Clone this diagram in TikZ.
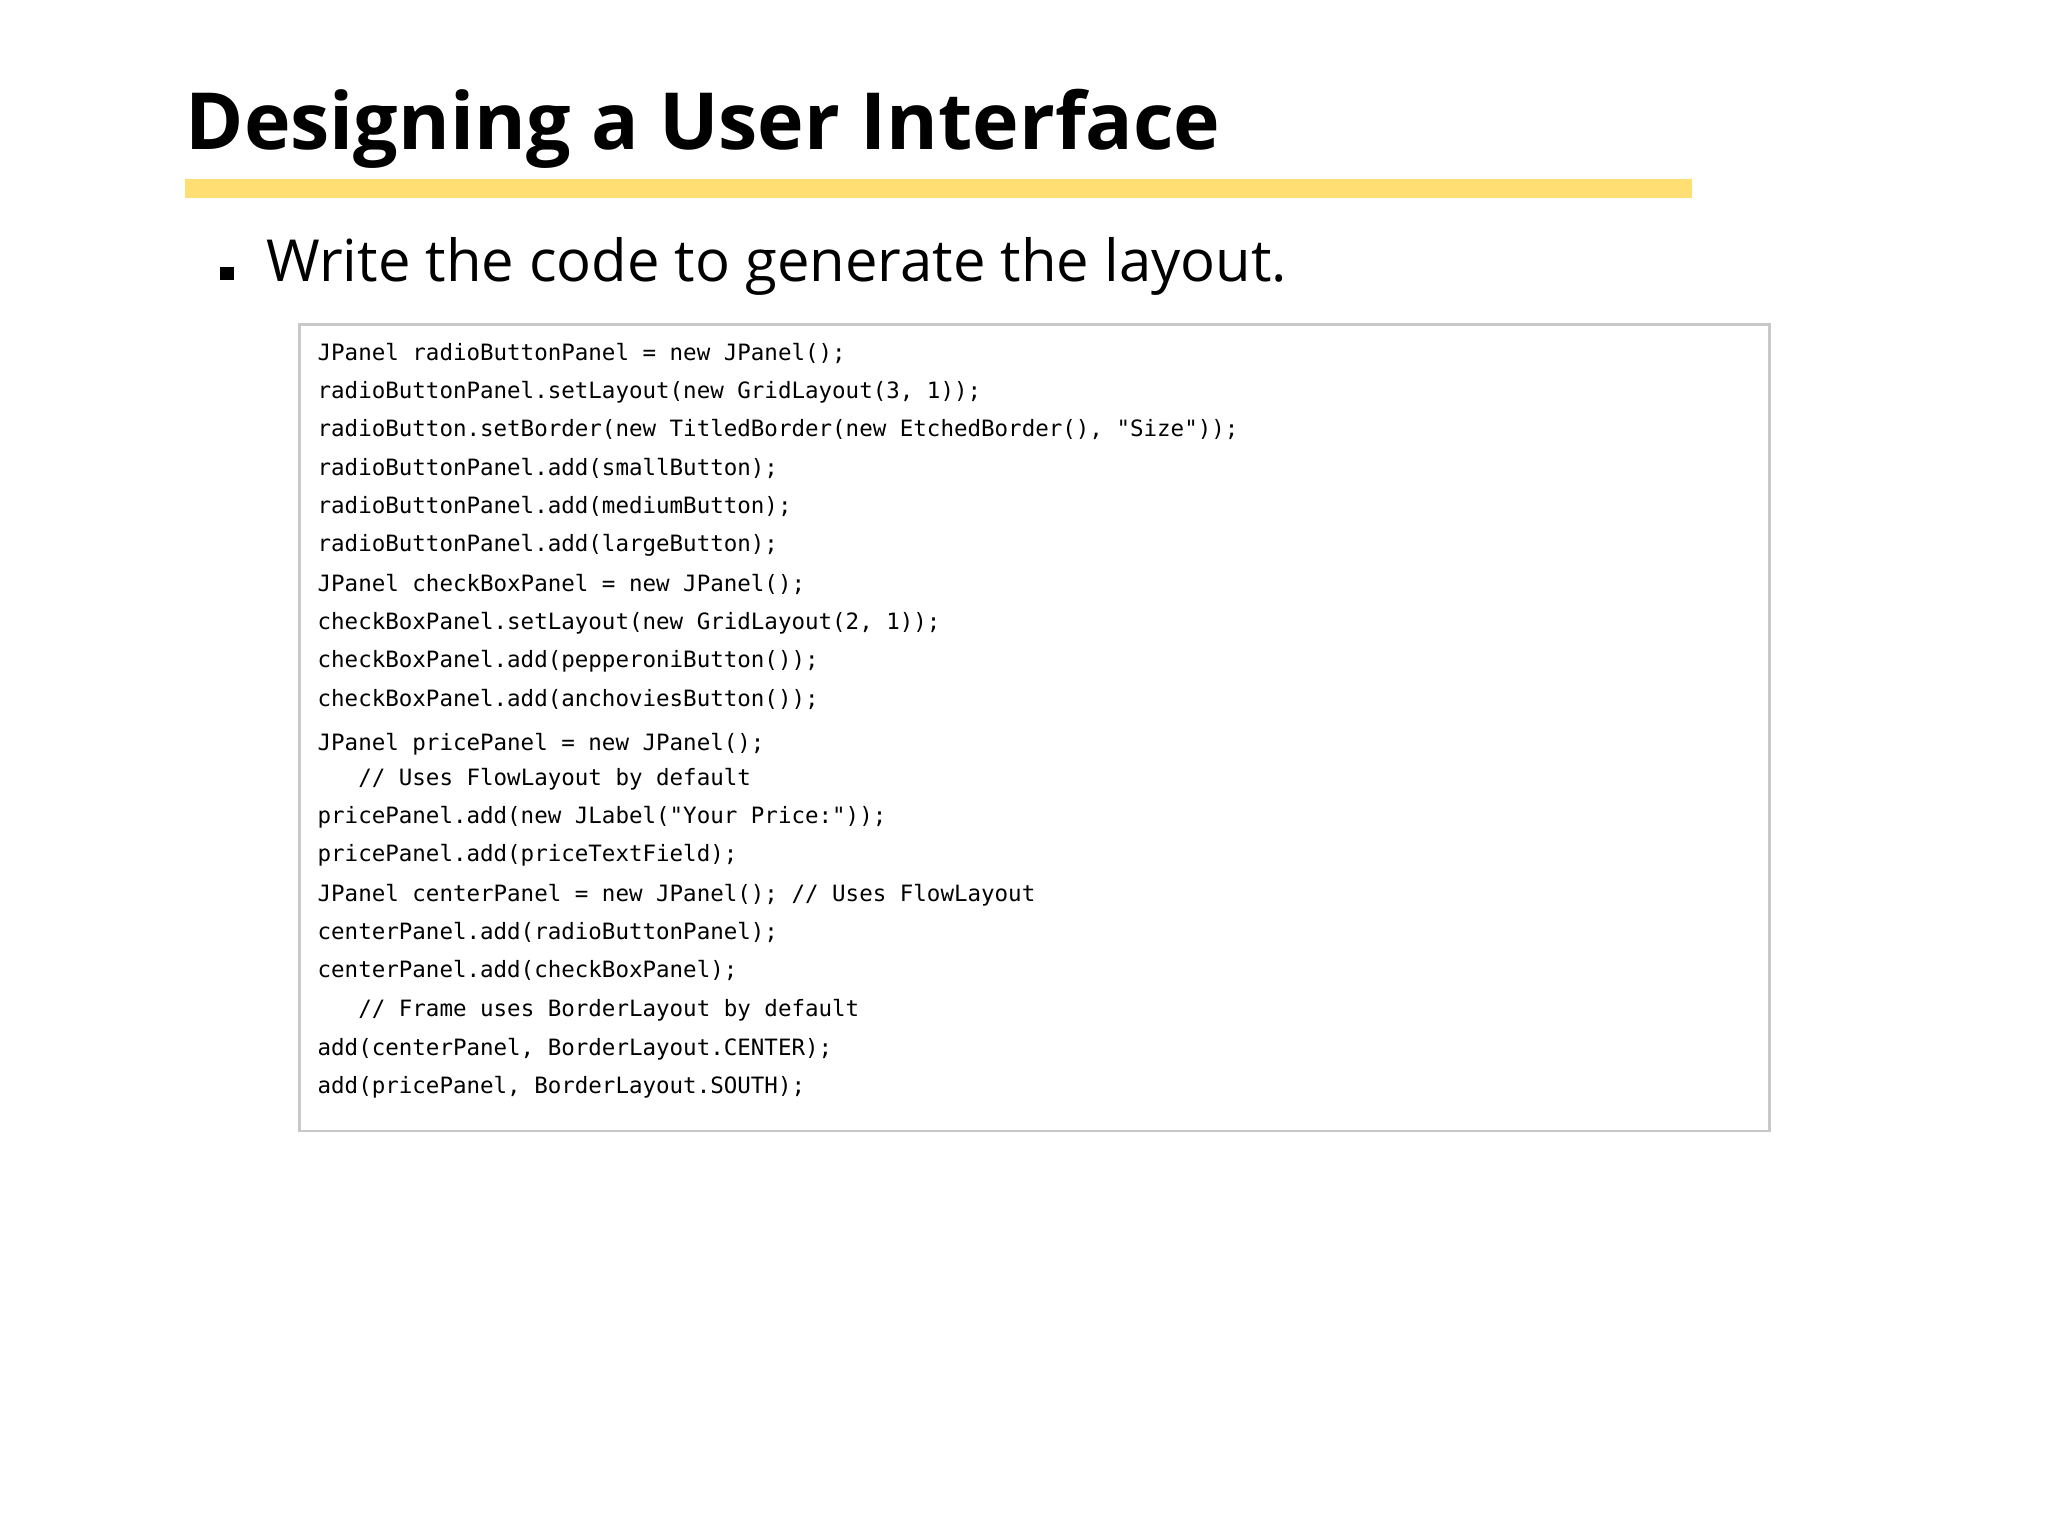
\documentclass[tikz,border=0pt]{standalone}
\usepackage{fontspec}
\setmainfont{Open Sans}
\newfontfamily\codefont{DejaVu Sans Mono}
\newfontfamily\titlefont{Open Sans}
\begin{document}
\begin{tikzpicture}[x=0.1mm,y=-0.1mm,
  codeline/.style={anchor=base west,inner sep=0pt,font=\codefont\fontsize{4.85pt}{5pt}\selectfont}]
\useasboundingbox (0,0) rectangle (1552,1164);
\node[anchor=base west,inner sep=0pt,font=\titlefont\bfseries\fontsize{17pt}{20pt}\selectfont] (title) at (140,113) {Designing a User Interface};
\fill[color={rgb,255:red,255;green,223;blue,115}] (140,136) rectangle (1282,150);
\fill[black] (167,202) rectangle (177,212);
\node[anchor=base west,inner sep=0pt,font=\fontsize{12.5pt}{15pt}\selectfont] (bullet) at (201,213) {Write the code to generate the layout.};
\draw[color={rgb,255:red,200;green,200;blue,200},line width=0.6pt] (227,246) rectangle (1341,857);
\foreach \y/\t in {
273/{JPanel radioButtonPanel = new JPanel();},
302/{radioButtonPanel.setLayout(new GridLayout(3, 1));},
331/{radioButton.setBorder(new TitledBorder(new EtchedBorder(), "Size"));},
360/{radioButtonPanel.add(smallButton);},
389/{radioButtonPanel.add(mediumButton);},
418/{radioButtonPanel.add(largeButton);},
448/{JPanel checkBoxPanel = new JPanel();},
477/{checkBoxPanel.setLayout(new GridLayout(2, 1));},
506/{checkBoxPanel.add(pepperoniButton());},
535/{checkBoxPanel.add(anchoviesButton());},
569/{JPanel pricePanel = new JPanel();},
595/{\ \ \ // Uses FlowLayout by default},
624/{pricePanel.add(new JLabel("Your Price:"));},
653/{pricePanel.add(priceTextField);},
683/{JPanel centerPanel = new JPanel(); // Uses FlowLayout},
712/{centerPanel.add(radioButtonPanel);},
741/{centerPanel.add(checkBoxPanel);},
770/{\ \ \ // Frame uses BorderLayout by default},
800/{add(centerPanel, BorderLayout.CENTER);},
829/{add(pricePanel, BorderLayout.SOUTH);}}
  \node[codeline] at (240,\y) {\t};
\end{tikzpicture}
\end{document}
